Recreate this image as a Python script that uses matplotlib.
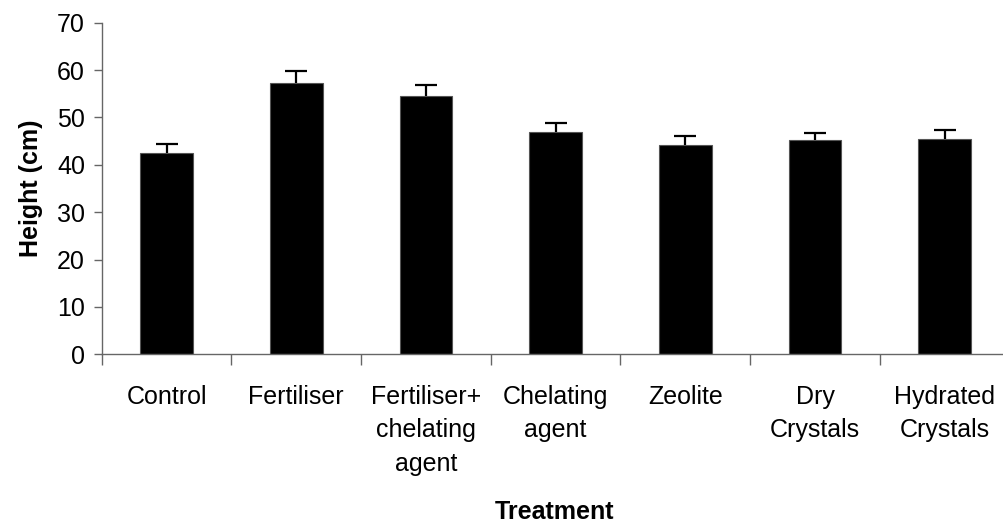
import matplotlib
matplotlib.use("Agg")
import matplotlib.pyplot as plt
import numpy as np

categories = ["Control", "Fertiliser", "Fertiliser+\nchelating\nagent", "Chelating\nagent",
              "Zeolite", "Dry\nCrystals", "Hydrated\nCrystals"]
heights = [42.4, 57.3, 54.6, 46.9, 44.1, 45.2, 45.5]
errors = [2.0, 2.6, 2.3, 1.9, 2.0, 1.5, 1.8]
yticks = [0, 10, 20, 30, 40, 50, 60, 70]

plt.rcParams['font.family'] = ['Liberation Sans', 'DejaVu Sans']

fig = plt.figure(figsize=(10.04, 5.29), dpi=100)
ax = fig.add_axes([101.7/1004, 1 - 354.3/529, (1009.6-101.7)/1004, (354.3-22.7)/529])

x = np.arange(len(categories))
ax.bar(x, heights, width=0.405, color='black', edgecolor='#555555', linewidth=0.8, zorder=2)
eb = ax.errorbar(x, heights, yerr=[np.zeros(len(errors)), errors], fmt='none', ecolor='black',
                 elinewidth=1.6, capsize=8, capthick=1.6, zorder=3)
caps = eb[1]
if len(caps) == 2:
    caps[0].set_visible(False)

ax.set_xlim(-0.5, len(categories) - 0.5)
ax.set_ylim(0, 70)
ax.set_yticks(yticks)
ax.set_xticks(x)
ax.set_xticklabels(categories, fontsize=18, linespacing=1.5, va='top')
ax.set_xticks(np.arange(len(categories)) - 0.5, minor=True)
ax.tick_params(axis='x', which='major', length=0, pad=22)
ax.tick_params(axis='x', which='minor', length=8, width=1, color='#666666', direction='out')
ax.tick_params(axis='y', length=6, width=1, color='#666666', labelsize=18, pad=6)

for s in ['top', 'right']:
    ax.spines[s].set_visible(False)
for s in ['left', 'bottom']:
    ax.spines[s].set_color('#666666')
    ax.spines[s].set_linewidth(1)

ax.set_ylabel("Height (cm)", fontsize=18, fontweight='bold', labelpad=10)
fig.text(555/1004, 1 - 512/529, "Treatment", fontsize=18, fontweight='bold', ha='center', va='center')

fig.savefig("out.png", dpi=100)
